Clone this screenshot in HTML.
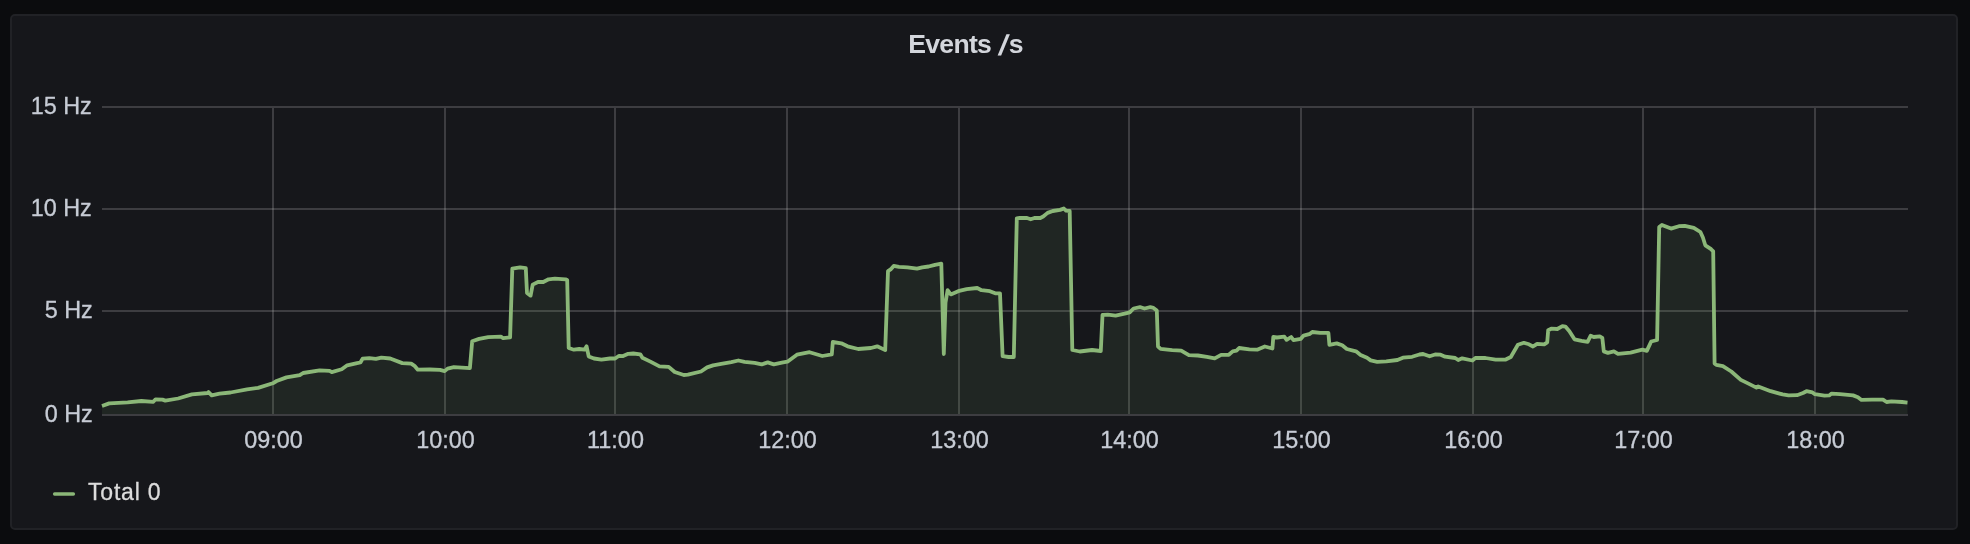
<!DOCTYPE html>
<html><head><meta charset="utf-8"><title>Events /s</title>
<style>
html,body{margin:0;padding:0;background:#0b0c0e;width:1970px;height:544px;overflow:hidden;}
.panel{position:absolute;left:10px;top:14px;width:1944px;height:512px;background:#16171b;border:2px solid #212226;border-radius:5px;}
.ev{letter-spacing:-0.75px;}
.sl{display:inline-block;transform:translateY(1px) scale(1.1,1.08) skewX(-12deg);margin:0 1px 0 2px;}
.title,.leg,svg{will-change:transform;}
.title{position:absolute;left:0;top:14px;width:1932px;text-align:center;font-family:"Liberation Sans",Arial,sans-serif;font-weight:bold;font-size:26.6px;line-height:60px;color:#d3d6dc;}
svg{position:absolute;left:0;top:0;}
.ax text{font-family:"Liberation Sans",Arial,sans-serif;font-size:23.4px;fill:#c7ccd5;stroke:#c7ccd5;stroke-width:0.3px;}
.leg{position:absolute;left:88px;top:478px;font-family:"Liberation Sans",Arial,sans-serif;font-size:23px;color:#dcdcdc;line-height:28px;letter-spacing:0.8px;-webkit-text-stroke:0.3px #dcdcdc;}
</style></head>
<body>
<div class="panel"></div>
<div class="title"><span class="ev">Events</span> <span class="sl">/</span>s</div>
<svg width="1970" height="544" viewBox="0 0 1970 544">
<g stroke="rgba(200,200,200,0.22)" stroke-width="2" fill="none">
<line x1="102" y1="107" x2="1908" y2="107"/>
<line x1="102" y1="209" x2="1908" y2="209"/>
<line x1="102" y1="311" x2="1908" y2="311"/>
<line x1="102" y1="415" x2="1908" y2="415"/>
<line x1="273" y1="108" x2="273" y2="414"/>
<line x1="445" y1="108" x2="445" y2="414"/>
<line x1="615" y1="108" x2="615" y2="414"/>
<line x1="787" y1="108" x2="787" y2="414"/>
<line x1="959" y1="108" x2="959" y2="414"/>
<line x1="1129" y1="108" x2="1129" y2="414"/>
<line x1="1301" y1="108" x2="1301" y2="414"/>
<line x1="1473" y1="108" x2="1473" y2="414"/>
<line x1="1643" y1="108" x2="1643" y2="414"/>
<line x1="1815" y1="108" x2="1815" y2="414"/>
</g>
<path d="M102 406 L109.2 403.4 L127.6 402.4 L141.4 401 L153.3 401.8 L155.6 399.3 L162.5 399.6 L165.3 400.6 L178.1 398.5 L191.9 394.4 L207.6 393 L208.5 392.1 L211.7 395.3 L219.5 393.7 L230.5 392.5 L247.1 389.3 L258.1 387.9 L272.8 383.3 L276.6 381 L286.5 377.4 L299.8 375.2 L303.1 373 L319.6 370.3 L329.6 370.8 L331.8 372.1 L341.7 369.2 L347.2 365.3 L357.1 363.1 L360.4 362.5 L362.6 358.7 L369.3 358.1 L375.9 358.9 L381.4 357.6 L390.2 358.5 L402.3 363.1 L411.2 363.6 L414.5 365.8 L417.8 369.7 L429.9 369.5 L440 369.9 L444.6 371.1 L447.6 368.6 L453.8 367.2 L469.9 368.1 L472.2 341.2 L479.1 338.9 L488.3 337.1 L500.9 336.6 L503.2 338.2 L510.1 337.4 L512.3 268.7 L520.1 267.3 L525.8 268.1 L527 293 L530.6 295.6 L532.7 284.6 L538 282 L543.3 282 L548.6 279.3 L554.9 278.7 L565.5 279.3 L567.2 280 L568.7 348 L573.9 349.7 L579.2 349 L584.5 349.7 L586.6 346.3 L588.7 356.4 L594 358.5 L601.4 359.6 L609.9 358.5 L615.1 358.5 L619.1 355.8 L623.1 356.1 L628.2 353.8 L633.3 353.5 L640.3 354.3 L642.4 357.8 L650.4 361.6 L659.5 366.4 L668.7 366.9 L674.7 372 L683.8 375 L687.9 374.7 L701 371.5 L707.1 367.4 L713.1 365.4 L721.2 363.9 L731.3 362.2 L738.4 360.5 L744.5 361.9 L754.6 362.9 L761.7 364.4 L767.7 362.4 L773.8 364.4 L781.9 362.6 L787.4 361.7 L796.9 354.7 L809.6 352.2 L822.3 356 L831.8 354.3 L832.8 342 L841.3 343.3 L847.6 346.3 L858.2 349 L870.9 348 L877.2 346.3 L885.2 350.1 L888 271.1 L890.6 269.4 L893.7 265.9 L899 266.9 L907.5 267.3 L917 268.6 L922.3 267.3 L928.6 266.5 L935 264.8 L941.3 263.7 L943.8 354 L945.5 302.8 L947.6 290.2 L950.8 294.4 L958.2 291.2 L966.7 289.1 L977.2 288 L981.5 290.2 L989.9 291.2 L995.2 293.3 L1000 293.3 L1002.6 356.1 L1008.6 357 L1013.8 357 L1016.8 218.4 L1019.7 218 L1027 218 L1030.7 219.3 L1034.4 218 L1040.3 218 L1043.2 216.5 L1047.6 212.9 L1052.8 211 L1060.1 209.9 L1063.8 208.5 L1066 210.7 L1069.7 211 L1072.3 350 L1079.8 351.5 L1092 350 L1100.8 351 L1102.5 314.9 L1107.9 314.6 L1115.6 315.6 L1124.6 313.7 L1129.7 312.4 L1133.6 308.5 L1140 307.2 L1144.5 308.5 L1150.3 307.2 L1153.5 307.9 L1156.8 310.4 L1158 346.5 L1160.6 348.8 L1172.2 350.1 L1181.2 350.6 L1188.9 355.2 L1197.9 355.5 L1206.9 356.8 L1214.7 358.3 L1221.1 354.8 L1228.8 354.8 L1232.7 351.4 L1236.5 350.6 L1239.1 348 L1249.4 349.3 L1257.1 349.7 L1264.8 346.5 L1272.4 348.5 L1273.3 337 L1277 337.5 L1284.3 336.7 L1286.6 339.8 L1291.2 337 L1293.5 340.2 L1300.9 338.8 L1303.6 335.6 L1310 333.8 L1312.3 332 L1320.2 332.9 L1328.4 332.9 L1329.4 344.8 L1336.7 343.4 L1342.2 345.3 L1346.8 349 L1356 351.3 L1360.6 354.9 L1367 357.7 L1370.7 360.4 L1377.2 361.8 L1386.3 361.4 L1397.4 360 L1402.9 357.7 L1412.1 356.8 L1419.4 354.5 L1423.1 354 L1429.6 356.3 L1435.1 354.5 L1440.6 354.7 L1445.1 356.7 L1455.2 358 L1458.2 360 L1462.2 358.3 L1472.4 360.5 L1475.4 358 L1485.5 358 L1495.6 359.7 L1505.7 359.5 L1510.8 357 L1517.9 344.8 L1523.9 342.8 L1529 344.3 L1533 346.5 L1537.1 343.8 L1544.2 344.3 L1547.2 342.3 L1548.2 330.2 L1551.2 328.7 L1557.3 329 L1562.4 326.1 L1565.4 326.6 L1569.4 331.2 L1574.5 339.3 L1581.6 340.8 L1587.6 341.8 L1590.7 335.7 L1593.7 337 L1599.8 336.4 L1602.3 337.8 L1603.8 351.4 L1607.9 352.9 L1613.9 351.4 L1618 353.9 L1630.6 352.6 L1642.4 349.7 L1646.8 350.9 L1651.2 341.5 L1657.1 340 L1659.2 227 L1661.9 224.9 L1671 228.6 L1678.9 226.2 L1684.7 225.8 L1693.8 227.8 L1700.4 232 L1702.9 237.5 L1705.3 245.3 L1711.1 249.2 L1713.2 251.4 L1714.6 363.5 L1716.3 364.9 L1722.9 366.1 L1731.3 371.5 L1740.8 379.9 L1748 383.4 L1756.4 387.6 L1758.2 386.4 L1770.7 391.2 L1782.6 394.4 L1788.6 395.4 L1797 395.2 L1803 393 L1806.5 391.2 L1812.5 392.4 L1814.9 394.2 L1824.5 395.6 L1829.2 395.4 L1831.6 393.6 L1840 394.2 L1853.1 395.4 L1857.9 397.2 L1861.5 399.9 L1872.2 399.6 L1883 399.6 L1886.6 402 L1891.4 401.4 L1902.1 402 L1907.5 402.6 L1907.5 414 L102 414 Z" fill="rgba(126,178,109,0.1)" stroke="none"/>
<path d="M102 406 L109.2 403.4 L127.6 402.4 L141.4 401 L153.3 401.8 L155.6 399.3 L162.5 399.6 L165.3 400.6 L178.1 398.5 L191.9 394.4 L207.6 393 L208.5 392.1 L211.7 395.3 L219.5 393.7 L230.5 392.5 L247.1 389.3 L258.1 387.9 L272.8 383.3 L276.6 381 L286.5 377.4 L299.8 375.2 L303.1 373 L319.6 370.3 L329.6 370.8 L331.8 372.1 L341.7 369.2 L347.2 365.3 L357.1 363.1 L360.4 362.5 L362.6 358.7 L369.3 358.1 L375.9 358.9 L381.4 357.6 L390.2 358.5 L402.3 363.1 L411.2 363.6 L414.5 365.8 L417.8 369.7 L429.9 369.5 L440 369.9 L444.6 371.1 L447.6 368.6 L453.8 367.2 L469.9 368.1 L472.2 341.2 L479.1 338.9 L488.3 337.1 L500.9 336.6 L503.2 338.2 L510.1 337.4 L512.3 268.7 L520.1 267.3 L525.8 268.1 L527 293 L530.6 295.6 L532.7 284.6 L538 282 L543.3 282 L548.6 279.3 L554.9 278.7 L565.5 279.3 L567.2 280 L568.7 348 L573.9 349.7 L579.2 349 L584.5 349.7 L586.6 346.3 L588.7 356.4 L594 358.5 L601.4 359.6 L609.9 358.5 L615.1 358.5 L619.1 355.8 L623.1 356.1 L628.2 353.8 L633.3 353.5 L640.3 354.3 L642.4 357.8 L650.4 361.6 L659.5 366.4 L668.7 366.9 L674.7 372 L683.8 375 L687.9 374.7 L701 371.5 L707.1 367.4 L713.1 365.4 L721.2 363.9 L731.3 362.2 L738.4 360.5 L744.5 361.9 L754.6 362.9 L761.7 364.4 L767.7 362.4 L773.8 364.4 L781.9 362.6 L787.4 361.7 L796.9 354.7 L809.6 352.2 L822.3 356 L831.8 354.3 L832.8 342 L841.3 343.3 L847.6 346.3 L858.2 349 L870.9 348 L877.2 346.3 L885.2 350.1 L888 271.1 L890.6 269.4 L893.7 265.9 L899 266.9 L907.5 267.3 L917 268.6 L922.3 267.3 L928.6 266.5 L935 264.8 L941.3 263.7 L943.8 354 L945.5 302.8 L947.6 290.2 L950.8 294.4 L958.2 291.2 L966.7 289.1 L977.2 288 L981.5 290.2 L989.9 291.2 L995.2 293.3 L1000 293.3 L1002.6 356.1 L1008.6 357 L1013.8 357 L1016.8 218.4 L1019.7 218 L1027 218 L1030.7 219.3 L1034.4 218 L1040.3 218 L1043.2 216.5 L1047.6 212.9 L1052.8 211 L1060.1 209.9 L1063.8 208.5 L1066 210.7 L1069.7 211 L1072.3 350 L1079.8 351.5 L1092 350 L1100.8 351 L1102.5 314.9 L1107.9 314.6 L1115.6 315.6 L1124.6 313.7 L1129.7 312.4 L1133.6 308.5 L1140 307.2 L1144.5 308.5 L1150.3 307.2 L1153.5 307.9 L1156.8 310.4 L1158 346.5 L1160.6 348.8 L1172.2 350.1 L1181.2 350.6 L1188.9 355.2 L1197.9 355.5 L1206.9 356.8 L1214.7 358.3 L1221.1 354.8 L1228.8 354.8 L1232.7 351.4 L1236.5 350.6 L1239.1 348 L1249.4 349.3 L1257.1 349.7 L1264.8 346.5 L1272.4 348.5 L1273.3 337 L1277 337.5 L1284.3 336.7 L1286.6 339.8 L1291.2 337 L1293.5 340.2 L1300.9 338.8 L1303.6 335.6 L1310 333.8 L1312.3 332 L1320.2 332.9 L1328.4 332.9 L1329.4 344.8 L1336.7 343.4 L1342.2 345.3 L1346.8 349 L1356 351.3 L1360.6 354.9 L1367 357.7 L1370.7 360.4 L1377.2 361.8 L1386.3 361.4 L1397.4 360 L1402.9 357.7 L1412.1 356.8 L1419.4 354.5 L1423.1 354 L1429.6 356.3 L1435.1 354.5 L1440.6 354.7 L1445.1 356.7 L1455.2 358 L1458.2 360 L1462.2 358.3 L1472.4 360.5 L1475.4 358 L1485.5 358 L1495.6 359.7 L1505.7 359.5 L1510.8 357 L1517.9 344.8 L1523.9 342.8 L1529 344.3 L1533 346.5 L1537.1 343.8 L1544.2 344.3 L1547.2 342.3 L1548.2 330.2 L1551.2 328.7 L1557.3 329 L1562.4 326.1 L1565.4 326.6 L1569.4 331.2 L1574.5 339.3 L1581.6 340.8 L1587.6 341.8 L1590.7 335.7 L1593.7 337 L1599.8 336.4 L1602.3 337.8 L1603.8 351.4 L1607.9 352.9 L1613.9 351.4 L1618 353.9 L1630.6 352.6 L1642.4 349.7 L1646.8 350.9 L1651.2 341.5 L1657.1 340 L1659.2 227 L1661.9 224.9 L1671 228.6 L1678.9 226.2 L1684.7 225.8 L1693.8 227.8 L1700.4 232 L1702.9 237.5 L1705.3 245.3 L1711.1 249.2 L1713.2 251.4 L1714.6 363.5 L1716.3 364.9 L1722.9 366.1 L1731.3 371.5 L1740.8 379.9 L1748 383.4 L1756.4 387.6 L1758.2 386.4 L1770.7 391.2 L1782.6 394.4 L1788.6 395.4 L1797 395.2 L1803 393 L1806.5 391.2 L1812.5 392.4 L1814.9 394.2 L1824.5 395.6 L1829.2 395.4 L1831.6 393.6 L1840 394.2 L1853.1 395.4 L1857.9 397.2 L1861.5 399.9 L1872.2 399.6 L1883 399.6 L1886.6 402 L1891.4 401.4 L1902.1 402 L1907.5 402.6" fill="none" stroke="#8bb778" stroke-width="3.8" stroke-linejoin="round" stroke-linecap="butt"/>
<g class="ax">
<text x="91.8" y="114" text-anchor="end">15 Hz</text>
<text x="91.8" y="216" text-anchor="end">10 Hz</text>
<text x="92.8" y="318" text-anchor="end">5 Hz</text>
<text x="92.8" y="422" text-anchor="end">0 Hz</text>
<text x="273.5" y="448" text-anchor="middle">09:00</text>
<text x="445.5" y="448" text-anchor="middle">10:00</text>
<text x="615.5" y="448" text-anchor="middle">11:00</text>
<text x="787.5" y="448" text-anchor="middle">12:00</text>
<text x="959.5" y="448" text-anchor="middle">13:00</text>
<text x="1129.5" y="448" text-anchor="middle">14:00</text>
<text x="1301.5" y="448" text-anchor="middle">15:00</text>
<text x="1473.5" y="448" text-anchor="middle">16:00</text>
<text x="1643.5" y="448" text-anchor="middle">17:00</text>
<text x="1815.5" y="448" text-anchor="middle">18:00</text>
</g>
<line x1="54.6" y1="494" x2="73.4" y2="494" stroke="#8bb778" stroke-width="3.4" stroke-linecap="round"/>
</svg>
<div class="leg">Total 0</div>
</body></html>
